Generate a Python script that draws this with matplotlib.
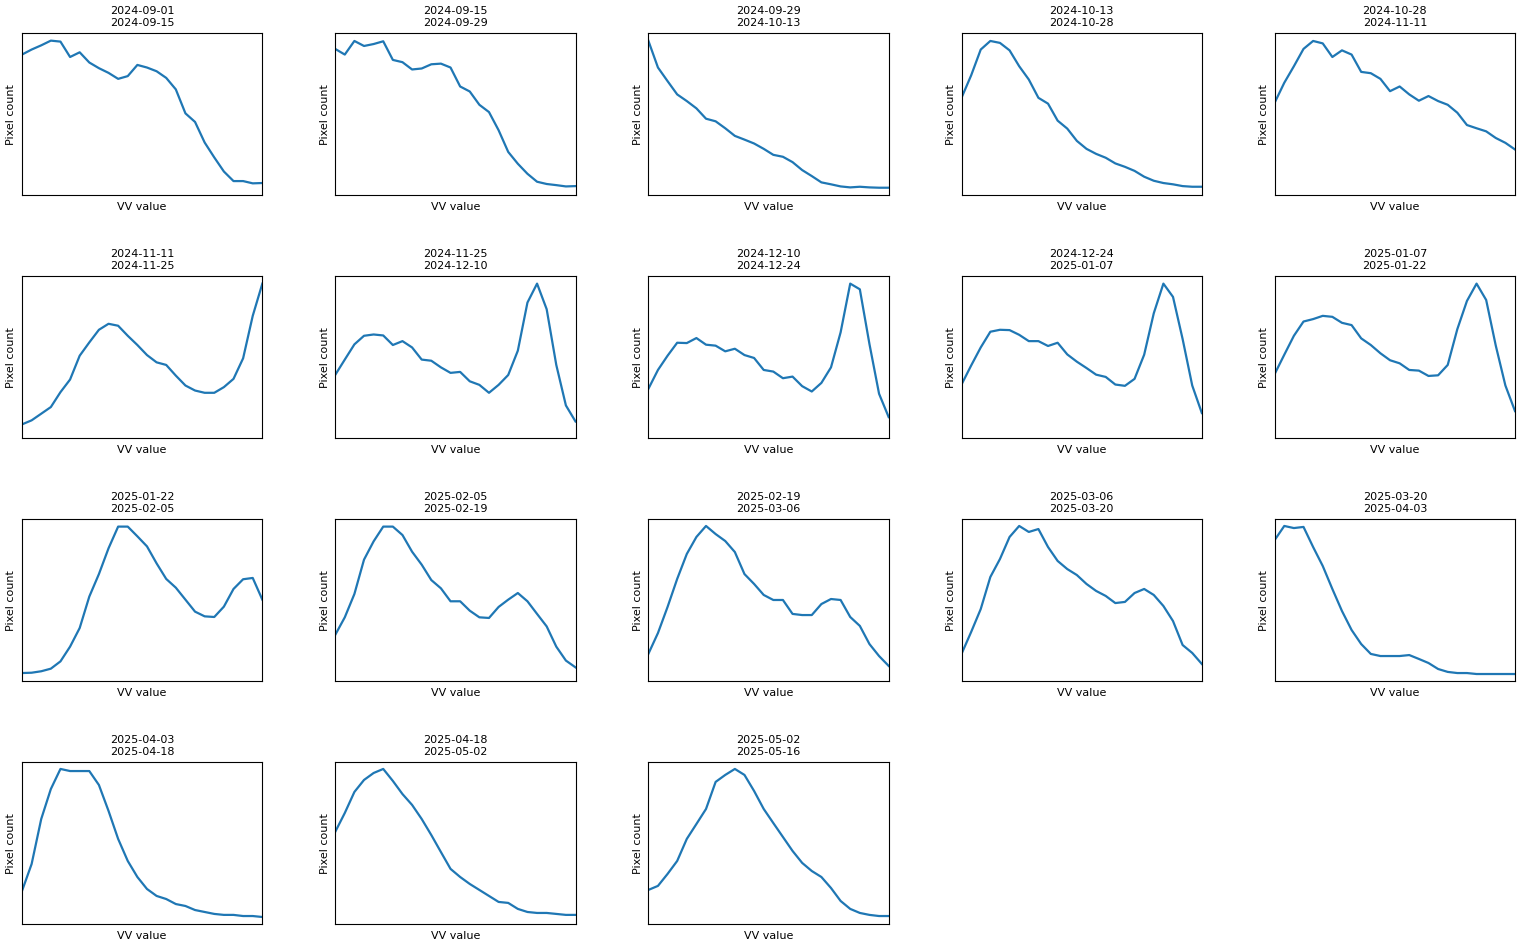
import numpy as np
import matplotlib
matplotlib.use("Agg")
import matplotlib.pyplot as plt

# VV histogram bins (dB) shared by all composites
vv_bins = np.arange(-25, 1)

start_dates = [
    "2024-09-01", "2024-09-15", "2024-09-29", "2024-10-13", "2024-10-28",
    "2024-11-11", "2024-11-25", "2024-12-10", "2024-12-24", "2025-01-07",
    "2025-01-22", "2025-02-05", "2025-02-19", "2025-03-06", "2025-03-20",
    "2025-04-03", "2025-04-18", "2025-05-02",
]
end_dates = [
    "2024-09-15", "2024-09-29", "2024-10-13", "2024-10-28", "2024-11-11",
    "2024-11-25", "2024-12-10", "2024-12-24", "2025-01-07", "2025-01-22",
    "2025-02-05", "2025-02-19", "2025-03-06", "2025-03-20", "2025-04-03",
    "2025-04-18", "2025-05-02", "2025-05-16",
]

# pixel counts per bin (thousands), one list per period
pixel_counts = [
    [86.7, 89.8, 92.4, 95.3, 94.7, 85.2, 88.1, 81.8, 78.3, 75.4, 71.7, 73.4, 80.3,
     78.7, 76.4, 72.3, 65.2, 50.4, 45.1, 32.4, 23.2, 14.5, 8.6, 8.6, 7.2, 7.4],
    [90.2, 86.7, 95.1, 92.0, 93.2, 94.9, 83.4, 82.0, 77.5, 78.1, 80.7, 81.1, 78.7,
     67.0, 63.9, 55.7, 51.2, 40.0, 26.6, 19.3, 13.1, 8.2, 6.8, 6.1, 5.3, 5.5],
    [95.3, 78.7, 70.3, 62.1, 58.0, 53.5, 47.1, 45.5, 41.2, 36.5, 34.2, 31.8, 28.5,
     24.8, 23.6, 20.3, 15.4, 11.7, 7.8, 6.6, 5.3, 4.7, 5.1, 4.7, 4.5, 4.5],
    [60.0, 73.8, 89.8, 95.1, 93.9, 89.3, 79.5, 71.3, 60.0, 56.4, 45.9, 41.0, 33.4,
     28.5, 25.4, 23.0, 19.5, 17.4, 14.9, 11.3, 8.8, 7.4, 6.6, 5.5, 5.1, 5.1],
    [57.0, 69.3, 79.5, 90.2, 95.1, 93.6, 85.2, 89.3, 86.7, 76.0, 75.2, 71.7, 64.1,
     67.0, 62.1, 58.2, 61.1, 58.0, 55.7, 50.8, 43.2, 41.2, 39.3, 35.2, 32.2, 28.1],
    [8.4, 10.9, 15.0, 19.1, 28.3, 36.1, 50.8, 59.0, 66.8, 70.5, 69.3, 63.1, 57.4,
     51.2, 46.7, 45.1, 38.5, 32.4, 29.3, 27.9, 27.9, 31.4, 36.5, 49.2, 75.4, 95.3],
    [38.9, 48.4, 57.8, 63.1, 63.9, 63.3, 57.4, 59.8, 55.9, 48.4, 47.7, 43.6, 40.2,
     40.8, 35.0, 32.8, 27.9, 32.8, 38.9, 53.9, 83.6, 95.3, 79.5, 45.1, 20.1, 10.2],
    [30.3, 42.0, 50.8, 58.8, 58.6, 61.7, 57.6, 57.0, 53.5, 55.1, 51.2, 49.4, 42.0,
     41.0, 36.9, 37.9, 32.0, 28.7, 34.0, 43.6, 65.2, 95.3, 91.8, 58.0, 27.3, 12.9],
    [33.0, 44.7, 55.9, 65.6, 66.8, 66.6, 63.7, 59.8, 59.8, 56.8, 58.8, 51.6, 47.1,
     43.2, 39.1, 37.7, 33.0, 32.2, 36.5, 51.4, 77.0, 95.3, 87.1, 61.1, 32.4, 15.4],
    [39.5, 51.4, 63.1, 71.9, 73.4, 75.4, 74.8, 71.1, 69.7, 61.5, 57.4, 52.3, 48.0,
     46.1, 42.0, 41.6, 38.3, 38.7, 45.1, 67.2, 84.6, 95.3, 85.2, 57.0, 32.4, 16.6],
    [4.9, 5.1, 6.0, 7.6, 12.1, 21.2, 32.7, 52.1, 66.0, 81.9, 95.3, 95.3, 89.3,
     83.1, 72.6, 63.0, 57.6, 50.2, 42.8, 39.9, 39.5, 45.9, 56.8, 62.8, 63.6, 50.2],
    [28.4, 39.3, 53.7, 74.9, 86.2, 95.3, 95.3, 90.1, 79.8, 71.8, 62.3, 57.2, 49.2,
     49.2, 43.4, 39.3, 38.9, 45.7, 50.2, 54.3, 49.2, 41.4, 33.7, 21.2, 12.6, 8.4],
    [16.7, 29.6, 45.7, 63.0, 78.4, 88.9, 95.7, 90.7, 86.4, 79.6, 66.0, 59.9, 53.1,
     50.0, 50.0, 41.4, 40.7, 40.7, 47.5, 50.6, 50.0, 39.5, 34.0, 22.8, 15.4, 9.3],
    [16.7, 30.2, 44.4, 64.2, 75.3, 88.9, 95.7, 92.0, 93.8, 82.7, 74.1, 69.1, 65.4,
     59.9, 55.6, 52.5, 48.1, 48.8, 54.3, 56.8, 53.1, 46.3, 37.0, 22.2, 17.3, 10.5],
    [87.0, 95.7, 94.4, 95.1, 82.7, 71.0, 56.8, 43.2, 31.5, 22.8, 16.7, 15.4, 15.4,
     15.4, 16.0, 13.6, 11.1, 7.4, 5.6, 4.9, 4.9, 4.3, 4.3, 4.3, 4.3, 4.3],
    [20.4, 37.0, 64.8, 83.3, 95.7, 94.4, 94.4, 94.4, 85.8, 69.8, 52.5, 38.9, 29.0,
     21.6, 17.3, 15.4, 12.3, 11.1, 8.6, 7.4, 6.2, 5.6, 5.6, 4.9, 4.9, 4.3],
    [56.8, 68.5, 81.5, 88.9, 93.2, 95.7, 88.3, 80.2, 73.5, 64.8, 54.9, 44.4, 34.0,
     29.0, 24.7, 21.0, 17.3, 13.6, 13.0, 9.3, 7.4, 6.8, 6.8, 6.2, 5.6, 5.6],
    [21.0, 23.5, 30.9, 38.9, 52.5, 61.7, 71.0, 87.7, 92.0, 95.7, 92.0, 82.1, 71.0,
     62.3, 53.7, 45.1, 37.7, 32.7, 29.0, 22.2, 14.2, 9.3, 6.8, 5.6, 4.9, 4.9],
]

plt.rcParams["font.size"] = 8

fig, axes = plt.subplots(4, 5, figsize=(15.28, 9.45), dpi=100)
fig.subplots_adjust(left=0.0144, right=0.9915, top=0.964, bottom=0.0212,
                    wspace=0.303, hspace=0.5)

for ax, start, end, counts in zip(axes.flat, start_dates, end_dates, pixel_counts):
    ax.plot(vv_bins, counts, color="#1f77b4", linewidth=1.6)
    ax.set_xlim(vv_bins[0], vv_bins[-1])
    ax.set_ylim(0, 100)
    ax.set_title(f"{start}\n{end}", fontsize=8)
    ax.set_xlabel("VV value", fontsize=8)
    ax.set_ylabel("Pixel count", fontsize=8)
    ax.set_xticks([])
    ax.set_yticks([])

# unused slots in the grid
for ax in axes.flat[len(pixel_counts):]:
    ax.remove()

fig.savefig("out.png", dpi=100)
